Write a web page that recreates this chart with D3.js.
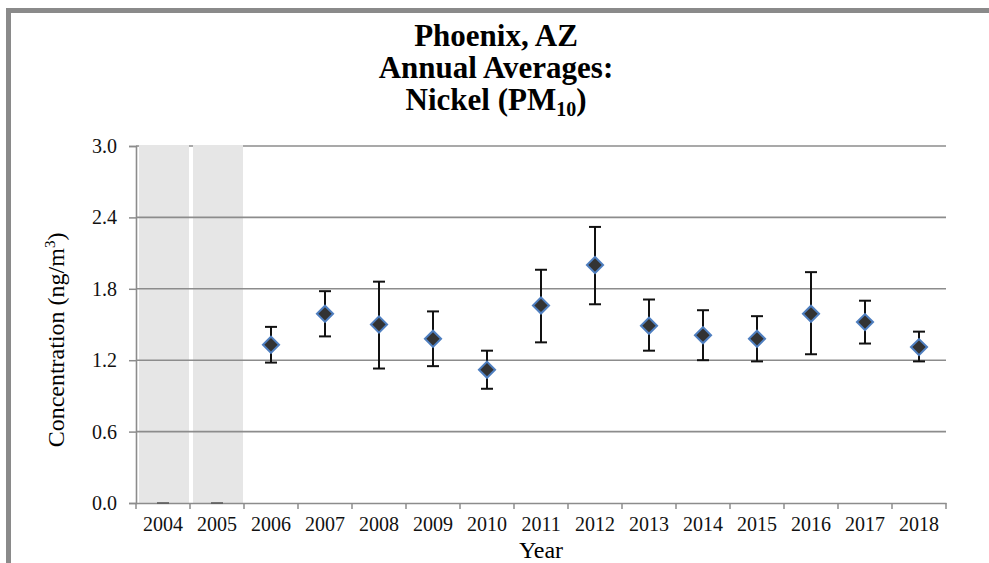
<!DOCTYPE html>
<meta charset="utf-8">
<script src="https://d3js.org/d3.v7.min.js"></script>
<style>
  body { margin: 0; background: #fff; }
  text { font-family: "Liberation Serif", "Times New Roman", serif; }
</style>
<div id="chart"></div>
<script>
    // data
    var years = ["2004", "2005", "2006", "2007", "2008", "2009", "2010", "2011",
        "2012", "2013", "2014", "2015", "2016", "2017", "2018"];
    var noData = ["2004", "2005"];
    var means = [0, 0, 1.33, 1.59, 1.50, 1.38, 1.12, 1.66, 2.00, 1.49, 1.41, 1.38, 1.59, 1.52, 1.31];
    var upper = [0, 0, 1.48, 1.78, 1.86, 1.61, 1.28, 1.96, 2.32, 1.71, 1.62, 1.57, 1.94, 1.70, 1.44];
    var lower = [0, 0, 1.18, 1.40, 1.13, 1.15, 0.96, 1.35, 1.67, 1.28, 1.20, 1.19, 1.25, 1.34, 1.19];
    var yTicks = [0, 0.6, 1.2, 1.8, 2.4, 3.0];

    var W = 989, H = 563;
    var margin = { top: 146, right: 43, bottom: 60, left: 136 };
    var width = W - margin.left - margin.right,
        height = H - margin.top - margin.bottom;

    var svg = d3.select("#chart").append("svg")
        .attr("width", W)
        .attr("height", H);

    // gray frame (only top and left edges show)
    svg.append("rect").attr("x", 6).attr("y", 8).attr("width", W).attr("height", 5).attr("fill", "#8a8a8a");
    svg.append("rect").attr("x", 6).attr("y", 8).attr("width", 5).attr("height", H).attr("fill", "#8a8a8a");

    // title
    var title = svg.append("text")
        .attr("text-anchor", "middle")
        .attr("font-size", 31)
        .attr("font-weight", "bold");
    title.append("tspan").attr("x", 496).attr("y", 46).text("Phoenix, AZ");
    title.append("tspan").attr("x", 496).attr("y", 78).text("Annual Averages:");
    title.append("tspan").attr("x", 496).attr("y", 110).text("Nickel (PM");
    title.append("tspan").attr("font-size", 20).attr("dy", 6).text("10");
    title.append("tspan").attr("dy", -6).text(")");

    var g = svg.append("g")
        .attr("transform", "translate(" + margin.left + "," + margin.top + ")");

    var x = d3.scaleBand().domain(years).range([0, width]);
    var y = d3.scaleLinear().domain([0, 3]).range([height, 0]);

    function grid(vals) {
        g.selectAll(null)
            .data(vals)
            .enter().append("line")
            .attr("x1", 0).attr("x2", width)
            .attr("y1", function (d) { return y(d); })
            .attr("y2", function (d) { return y(d); })
            .attr("stroke", "#8c8c8c")
            .attr("stroke-width", 1.6);
    }

    // top gridline sits under the shaded bands
    grid([3.0]);

    // shaded years without data
    g.selectAll("rect.nodata")
        .data(noData)
        .enter().append("rect")
        .attr("class", "nodata")
        .attr("x", function (d) { return x(d) + 3; })
        .attr("width", x.bandwidth() - 4)
        .attr("y", y(3) - 1)
        .attr("height", height + 1)
        .attr("fill", "#e6e6e6");

    grid(yTicks.slice(1, 5));

    // axes
    var yAxis = g.append("g")
        .call(d3.axisLeft(y).tickValues(yTicks).tickFormat(d3.format(".1f")).tickSize(7).tickPadding(12));
    var xAxis = g.append("g")
        .attr("transform", "translate(0," + height + ")")
        .call(d3.axisBottom(x).tickSize(0).tickPadding(14));
    // boundary ticks between years
    xAxis.selectAll("line.bt")
        .data(d3.range(years.length + 1))
        .enter().append("line")
        .attr("class", "bt")
        .attr("x1", function (i) { return i * x.step(); })
        .attr("x2", function (i) { return i * x.step(); })
        .attr("y1", 0).attr("y2", 6)
        .attr("stroke", "#8c8c8c").attr("stroke-width", 1.5);

    [yAxis, xAxis].forEach(function (a) {
        a.select(".domain").attr("stroke", "#8c8c8c").attr("stroke-width", 1.6);
        a.selectAll(".tick line").attr("stroke", "#8c8c8c").attr("stroke-width", 1.5);
        a.selectAll(".tick text")
            .attr("font-family", "'Liberation Serif', 'Times New Roman', serif")
            .attr("font-size", 20)
            .attr("fill", "#111");
    });

    // axis titles
    g.append("text")
        .attr("x", width / 2)
        .attr("y", height + 55)
        .attr("text-anchor", "middle")
        .attr("font-size", 24)
        .text("Year");

    var yt = g.append("text")
        .attr("transform", "translate(" + (-72) + "," + (y(1.37)) + ") rotate(-90)")
        .attr("text-anchor", "middle")
        .attr("font-size", 24);
    yt.append("tspan").text("Concentration (ng/m");
    yt.append("tspan").attr("font-size", 15).attr("dy", -9).text("3");
    yt.append("tspan").attr("dy", 9).text(")");

    var pts = years.map(function (d, i) {
        return { year: d, mean: means[i], hi: upper[i], lo: lower[i] };
    });

    // zero markers for years without data
    g.selectAll("line.zero")
        .data(pts.filter(function (d) { return noData.indexOf(d.year) >= 0; }))
        .enter().append("line")
        .attr("x1", function (d) { return x(d.year) + x.bandwidth() / 2 - 6; })
        .attr("x2", function (d) { return x(d.year) + x.bandwidth() / 2 + 6; })
        .attr("y1", y(0)).attr("y2", y(0))
        .attr("stroke", "#555").attr("stroke-width", 1.5);

    var data = pts.filter(function (d) { return noData.indexOf(d.year) < 0; });
    var cx = function (d) { return x(d.year) + x.bandwidth() / 2; };

    // error bars
    var eb = g.selectAll("g.err").data(data).enter().append("g").attr("class", "err")
        .attr("stroke", "#111").attr("stroke-width", 2);
    eb.append("line")
        .attr("x1", cx).attr("x2", cx)
        .attr("y1", function (d) { return y(d.hi); })
        .attr("y2", function (d) { return y(d.lo); });
    eb.append("line")
        .attr("x1", function (d) { return cx(d) - 6; }).attr("x2", function (d) { return cx(d) + 6; })
        .attr("y1", function (d) { return y(d.hi); }).attr("y2", function (d) { return y(d.hi); });
    eb.append("line")
        .attr("x1", function (d) { return cx(d) - 6; }).attr("x2", function (d) { return cx(d) + 6; })
        .attr("y1", function (d) { return y(d.lo); }).attr("y2", function (d) { return y(d.lo); });

    // diamond markers
    g.selectAll("path.pt").data(data).enter().append("path")
        .attr("class", "pt")
        .attr("d", d3.symbol().type(d3.symbolSquare).size(130))
        .attr("transform", function (d) { return "translate(" + cx(d) + "," + y(d.mean) + ") rotate(45)"; })
        .attr("fill", "#333333")
        .attr("stroke", "#4f7fc0")
        .attr("stroke-width", 2);
</script>
